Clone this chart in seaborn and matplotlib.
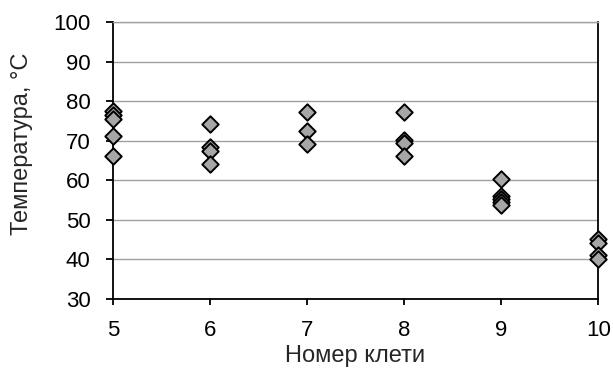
import pandas as pd
import seaborn as sns
import matplotlib.pyplot as plt

# Данные: температура по клетям
klet = [5, 5, 5, 5, 5,
        6, 6, 6, 6,
        7, 7, 7,
        8, 8, 8, 8,
        9, 9, 9, 9, 9,
        10, 10, 10, 10]
temp = [77.4, 76.6, 75.4, 71.3, 66.2,
        74.2, 68.3, 67.4, 64.2,
        77.3, 72.4, 69.2,
        77.3, 70.2, 69.3, 66.2,
        60.3, 56.1, 55.2, 54.5, 53.8,
        45.3, 44.2, 41.2, 40.2]

df = pd.DataFrame({"klet": klet, "temp": temp})

sns.set_style("white")
plt.rcParams['font.family'] = ['Liberation Sans', 'DejaVu Sans']

fig = plt.figure(figsize=(6.13, 3.72), dpi=100)
ax = fig.add_axes([0.184, 0.196, 0.792, 0.745])

sns.scatterplot(data=df, x="klet", y="temp", marker="D", s=70,
                color="#a6a6a6", edgecolor="black", linewidth=1.4,
                ax=ax, zorder=3, clip_on=False)

ax.set_xlim(5, 10)
ax.set_ylim(30, 100)
ax.set_xticks(range(5, 11))
ax.set_yticks(range(30, 101, 10))
ax.grid(axis="y", color="#a0a0a0", linewidth=1)
ax.set_axisbelow(True)

for side in ["left", "bottom", "right"]:
    ax.spines[side].set_color("black")
    ax.spines[side].set_linewidth(1.3)
ax.spines["top"].set_color("#a0a0a0")
ax.spines["top"].set_linewidth(1)

ax.tick_params(axis="both", labelsize=16, colors="black", direction="out",
               width=1.3, left=True, bottom=True)
ax.tick_params(axis="y", length=5, pad=11)
ax.tick_params(axis="x", length=4, pad=11)
ax.set_xlabel("Номер клети", fontsize=17, labelpad=3)
ax.set_ylabel("Температура, °C", fontsize=17)
ax.yaxis.set_label_coords(-0.165, 0.56)

fig.savefig("out.png", dpi=100)
